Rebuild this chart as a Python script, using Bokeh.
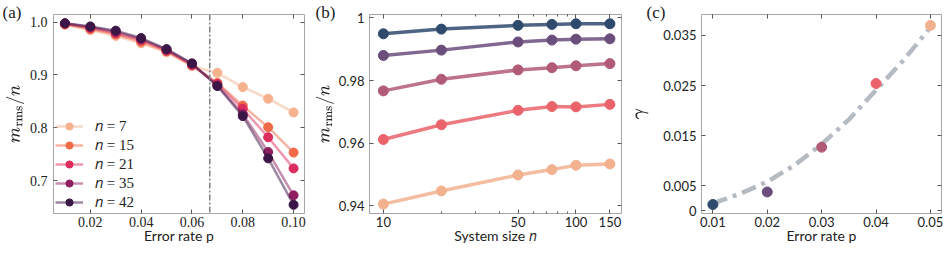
from bokeh.plotting import figure
from bokeh.layouts import row
from bokeh.models import (FixedTicker, LinearAxis, LogAxis, Span, Title, Legend,
                          LegendItem, Range1d, PrintfTickFormatter)
from bokeh.embed import file_html
from bokeh.resources import INLINE

# ---------------- data ----------------
# panel (a)
err_rate = [0.01, 0.02, 0.03, 0.04, 0.05, 0.06, 0.07, 0.08, 0.09, 0.10]
sizes_a = [7, 15, 21, 35, 42]
m_n7 = [0.995, 0.985, 0.974, 0.960, 0.943, 0.917, 0.904, 0.877, 0.855, 0.829]
m_n15 = [0.996, 0.987, 0.977, 0.963, 0.945, 0.918, 0.885, 0.842, 0.801, 0.753]
m_n21 = [0.997, 0.989, 0.979, 0.966, 0.946, 0.919, 0.883, 0.836, 0.782, 0.723]
m_n35 = [0.998, 0.991, 0.982, 0.968, 0.948, 0.921, 0.880, 0.826, 0.754, 0.672]
m_n42 = [0.998, 0.992, 0.984, 0.970, 0.949, 0.922, 0.879, 0.822, 0.742, 0.654]
p_threshold = 0.067

# panel (b)
system_size = [10, 20, 50, 75, 100, 150]
m_p001 = [0.9949, 0.9964, 0.9976, 0.9979, 0.9981, 0.9981]
m_p002 = [0.9880, 0.9897, 0.9923, 0.9929, 0.9932, 0.9933]
m_p003 = [0.9767, 0.9804, 0.9834, 0.9841, 0.9847, 0.9854]
m_p004 = [0.9612, 0.9659, 0.9705, 0.9717, 0.9716, 0.9724]
m_p005 = [0.9406, 0.9448, 0.9499, 0.9516, 0.9530, 0.9534]

# panel (c)
p_c = [0.01, 0.02, 0.03, 0.04, 0.05]
gamma = [0.00126, 0.00377, 0.0127, 0.0254, 0.0370]
fit_p = [0.01, 0.015, 0.02, 0.025, 0.03, 0.035, 0.04, 0.045, 0.05]
fit_gamma = [0.0015, 0.0034, 0.0058, 0.0091, 0.0133, 0.0182, 0.0241, 0.0300, 0.0366]

# tick labels
a_xticks = [0.02, 0.04, 0.06, 0.08, 0.10]
a_yticks = [0.7, 0.8, 0.9, 1.0]
b_xticks = [10, 50, 100, 150]
b_xminor = [20, 30, 40, 60, 70, 80, 90]
b_yticks = [0.94, 0.96, 0.98, 1.0]
b_ylabels = ["0.94", "0.96", "0.98", "1"]
c_xticks = [0.01, 0.02, 0.03, 0.04, 0.05]
c_yticks = [0.0, 0.005, 0.015, 0.025, 0.035]
c_ylabels = ["0", "0.005", "0.015", "0.025", "0.035"]

# axis ranges
a_xr, a_yr = (0.0055, 0.1043), (0.6375, 1.0146)
b_xr, b_yr = (8.47, 172.3), (0.9376, 1.00106)
c_xr, c_yr = (0.00791, 0.05204), (-0.00053, 0.03917)

# ---------------- style ----------------
a_colors = ["#f6b18d", "#f06a48", "#dd2d5c", "#8f1f60", "#3b1646"]
b_colors = ["#2e4a6c", "#6b4e7c", "#b15b76", "#ea636b", "#f2b290"]
SERIF = "Liberation Serif"
SANS = "Lato"
FRAME = "#a6a6a6"
TICK = "#555555"
H = 253


def style_axis(ax, font, size="13px"):
    ax.axis_line_color = None
    ax.major_tick_in = 4
    ax.major_tick_out = 0
    ax.minor_tick_in = 2
    ax.minor_tick_out = 0
    ax.major_tick_line_color = TICK
    ax.minor_tick_line_color = TICK
    ax.major_label_text_font = font
    ax.major_label_text_font_size = size
    ax.major_label_text_color = "#222222"
    ax.axis_label_text_font = SANS
    ax.axis_label_text_font_size = "14px"
    ax.axis_label_text_font_style = "normal"
    ax.axis_label_text_color = "#222222"


def mirror_axes(p, xtick, ytick, log_x=False):
    top = LogAxis(ticker=xtick) if log_x else LinearAxis(ticker=xtick)
    right = LinearAxis(ticker=ytick)
    for ax, tk in ((top, xtick), (right, ytick)):
        style_axis(ax, SANS)
        ax.major_label_overrides = {t: "" for t in tk.ticks}
        ax.major_label_standoff = 0
    p.add_layout(top, "above")
    p.add_layout(right, "right")


def base_fig(width, xr, yr, bl, br, x_axis_type="linear"):
    p = figure(width=width, height=H, output_backend="svg", toolbar_location=None,
               x_range=Range1d(*xr), y_range=Range1d(*yr), x_axis_type=x_axis_type,
               min_border_left=bl, min_border_right=br, min_border_top=14,
               min_border_bottom=40)
    p.grid.visible = False
    p.outline_line_color = FRAME
    p.outline_line_width = 1
    p.background_fill_color = "white"
    p.border_fill_color = "white"
    return p


def panel_label(p, txt, dx):
    p.add_layout(Title(text=txt, align="left", offset=-dx, standoff=-14,
                       vertical_align="bottom", text_font=SERIF,
                       text_font_size="17px", text_font_style="normal",
                       text_color="#222222"), "above")


def bottom_style(p):
    p.xaxis[0].major_label_standoff = 3
    p.xaxis[0].axis_label_standoff = -3


# ---------------- panel (a) ----------------
pa = base_fig(312, a_xr, a_yr, 53, 8)
xt = FixedTicker(ticks=a_xticks)
yt = FixedTicker(ticks=a_yticks)
pa.xaxis.ticker = xt
pa.yaxis.ticker = yt
pa.xaxis.formatter = PrintfTickFormatter(format="%.2f")
pa.yaxis.formatter = PrintfTickFormatter(format="%.1f")
for ax in pa.xaxis + pa.yaxis:
    style_axis(ax, SERIF, "14px")
pa.xaxis.axis_label = "Error rate p"
pa.yaxis.axis_label = r"$$m_{\rm rms}/n$$"
pa.yaxis.axis_label_text_font_size = "16px"
pa.yaxis.major_label_standoff = 6
pa.yaxis.axis_label_standoff = 2
bottom_style(pa)
mirror_axes(pa, xt, yt)

pa.add_layout(Span(location=p_threshold, dimension="height", line_color="#808080",
                   line_width=1.5, line_dash="6 2 2 2"))

items = []
for n, series, col in zip(sizes_a, [m_n7, m_n15, m_n21, m_n35, m_n42], a_colors):
    l = pa.line(err_rate, series, line_color=col, line_width=2.5, line_alpha=0.5)
    s = pa.scatter(err_rate, series, size=9, fill_color=col, line_color=col)
    items.append(LegendItem(label=f"\U0001D45B = {n}", renderers=[l, s]))
leg = Legend(items=items, location=(2, 2), border_line_color=None,
             background_fill_alpha=0, label_text_font=SERIF,
             label_text_font_size="15px", glyph_width=28, glyph_height=18,
             label_height=18, spacing=1, padding=8, label_standoff=12,
             label_text_color="#222222")
pa.add_layout(leg, "center")
panel_label(pa, "(a)", 51)

# ---------------- panel (b) ----------------
pb = base_fig(320, b_xr, b_yr, 54, 11, x_axis_type="log")
xtb = FixedTicker(ticks=b_xticks, minor_ticks=b_xminor)
ytb = FixedTicker(ticks=b_yticks)
pb.xaxis.ticker = xtb
pb.yaxis.ticker = ytb
pb.yaxis.major_label_overrides = {t: s for t, s in zip(b_yticks, b_ylabels)}
pb.xaxis.major_label_overrides = {t: str(t) for t in b_xticks}
for ax in pb.xaxis + pb.yaxis:
    style_axis(ax, SANS, "13px")
pb.xaxis.axis_label = "System size \U0001D45B"
pb.yaxis.axis_label = r"$$m_{\rm rms}/n$$"
pb.yaxis.axis_label_text_font_size = "16px"
pb.yaxis.major_label_standoff = 5
pb.yaxis.axis_label_standoff = 1
bottom_style(pb)
mirror_axes(pb, xtb, ytb, log_x=True)

for series, col in zip([m_p005, m_p004, m_p003, m_p002, m_p001], b_colors[::-1]):
    pb.line(system_size, series, line_color=col, line_width=3.5, line_alpha=0.85)
    pb.scatter(system_size, series, size=10, fill_color=col, line_color=col)
panel_label(pb, "(b)", 54)

# ---------------- panel (c) ----------------
pc = base_fig(315, c_xr, c_yr, 56, 6)
xtc = FixedTicker(ticks=c_xticks)
ytc = FixedTicker(ticks=c_yticks)
pc.xaxis.ticker = xtc
pc.yaxis.ticker = ytc
pc.xaxis.formatter = PrintfTickFormatter(format="%.2f")
pc.yaxis.major_label_overrides = {t: s for t, s in zip(c_yticks, c_ylabels)}
for ax in pc.xaxis + pc.yaxis:
    style_axis(ax, SANS, "13px")
pc.xaxis.axis_label = "Error rate p"
pc.yaxis.axis_label = r"$$\gamma$$"
pc.yaxis.axis_label_text_font_size = "17px"
pc.yaxis.major_label_standoff = 5
pc.yaxis.axis_label_standoff = 4
bottom_style(pc)
mirror_axes(pc, xtc, ytc)

pc.line(fit_p, fit_gamma, line_color="#b4bbc2", line_width=4.5, line_dash="15 6 4 6")
pc.scatter(p_c, gamma, size=10, fill_color=b_colors, line_color=b_colors)
panel_label(pc, "(c)", 55)

layout = row(pa, pb, pc)
open("out.html", "w").write(file_html(layout, INLINE))
